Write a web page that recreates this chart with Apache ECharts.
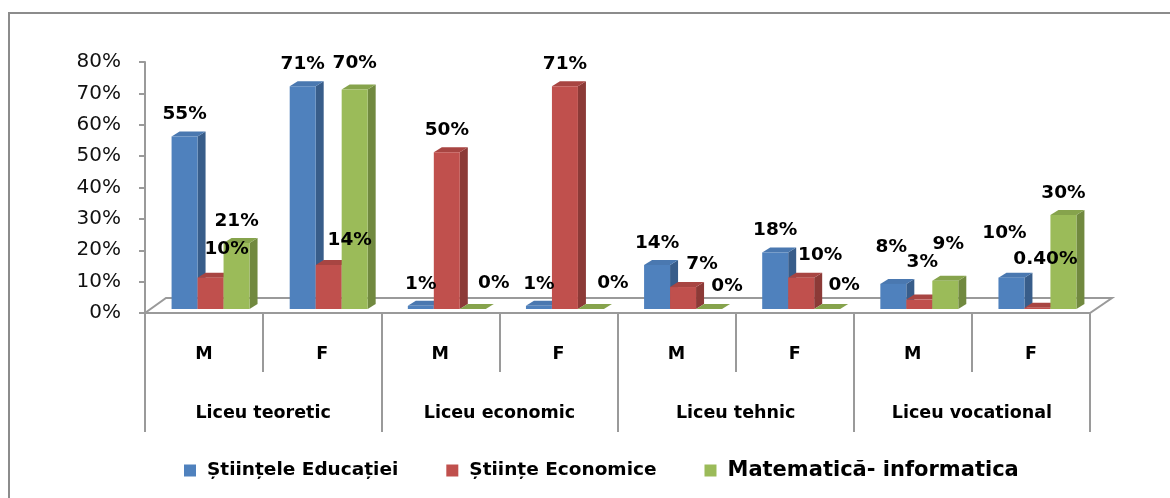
<!DOCTYPE html>
<html>
<head>
<meta charset="utf-8">
<script src="https://cdn.jsdelivr.net/npm/echarts@6/dist/echarts.min.js"></script>
<style>
html,body{margin:0;padding:0;background:#fff;}
#chart{width:1170px;height:498px;}
</style>
</head>
<body>
<div id="chart"></div>
<script>
// ---- data ----
const categories = ['M', 'F', 'M', 'F', 'M', 'F', 'M', 'F'];
const groups = ['Liceu teoretic', 'Liceu economic', 'Liceu tehnic', 'Liceu vocational'];
const seriesNames = ['Științele Educației', 'Științe Economice', 'Matematică- informatica'];
const stiinteleEducatiei = [55, 71, 1, 1, 14, 18, 8, 10];
const stiinteEconomice = [10, 14, 50, 71, 7, 10, 3, 0.4];
const matematicaInformatica = [21, 70, 0, 0, 0, 0, 9, 30];
const yMin = 0, yMax = 80, yInterval = 10;

// ---- layout / style config ----
const palette = [
  {front: '#4F81BD', side: '#385D8A', top: '#4A78B0'},
  {front: '#C0504D', side: '#8C3A37', top: '#A84542'},
  {front: '#9BBB59', side: '#71893F', top: '#86A34C'}
];
// label nudges [dx, dy] per series, per category (layout only)
const labelNudge = [
  [[0,0],[0,0],[0,0],[0,0],[0,0],[0,0],[-2,-15],[-7,-22]],
  [[16,-6],[21,-3],[0,0],[0,0],[19,-1],[19,0],[3,-15],[8,-27]],
  [[0,0],[0,-4],[21,-4],[22,-4],[18,-1],[17,-2],[3,-15],[0,0]]
];
const DX = 8, DY = 5, LIFT = 4;
const gridColor = '#9a9a9a';

function fmt(v) {
  return (Number.isInteger(v) ? String(v) : v.toFixed(2)) + '%';
}

function barRenderer(s) {
  return function (params, api) {
    const idx = api.value(0), v = api.value(1);
    const base = api.coord([idx, 0]);
    const topPt = api.coord([idx, v]);
    const cw = api.size([1, 0])[0];
    const w = cw * 0.22;
    const left = base[0] - 1.5 * w + cw * 0.055 + s * w;
    const yb = base[1] - LIFT;
    const yt = topPt[1] - LIFT;
    const c = palette[s];
    const n = labelNudge[s][idx] || [0, 0];
    return {
      type: 'group',
      children: [
        {type: 'polygon', shape: {points: [[left + w, yt], [left + w + DX, yt - DY], [left + w + DX, yb - DY], [left + w, yb]]},
         style: {fill: c.side}},
        {type: 'polygon', shape: {points: [[left, yt], [left + w, yt], [left + w + DX, yt - DY], [left + DX, yt - DY]]},
         style: {fill: c.top}},
        {type: 'rect', shape: {x: left, y: yt, width: w, height: Math.max(0, yb - yt)},
         style: {fill: c.front}},
        {type: 'text', z2: 100,
         style: {text: fmt(v), x: left + w / 2 + n[0], y: yt - 22 + n[1],
                 align: 'center', verticalAlign: 'middle',
                 font: 'bold 18.5px "DejaVu Sans"', fill: '#000'}}
      ]
    };
  };
}

function floorRenderer(params, api) {
  const cw = api.size([1, 0])[0];
  const a = api.coord([0, 0]);
  const b = api.coord([categories.length - 1, 0]);
  const L = a[0] - cw / 2, R = b[0] + cw / 2, y = a[1];
  return {
    type: 'polygon',
    shape: {points: [[L, y], [R, y], [R + 22, y - 15], [L + 21, y - 15]]},
    style: {fill: '#fff', stroke: gridColor, lineWidth: 2}
  };
}

const seriesData = [stiinteleEducatiei, stiinteEconomice, matematicaInformatica];

const chart = echarts.init(document.getElementById('chart'));
const series = [{
  type: 'custom', name: 'floor', silent: true, z: 1,
  xAxisIndex: 0, yAxisIndex: 0,
  data: [[0, 0]], renderItem: floorRenderer
}];
seriesData.forEach(function (arr, s) {
  series.push({
    type: 'custom', name: seriesNames[s], z: 3,
    xAxisIndex: 0, yAxisIndex: 0,
    itemStyle: {color: palette[s].front},
    data: arr.map(function (v, i) { return [i, v]; }),
    renderItem: barRenderer(s)
  });
});

chart.setOption({
  animation: false,
  backgroundColor: '#fff',
  color: palette.map(function (p) { return p.front; }),
  graphic: [{
    type: 'rect', silent: true, z: -1,
    shape: {x: 9, y: 13, width: 1200, height: 600},
    style: {fill: 'none', stroke: '#8c8c8c', lineWidth: 2}
  }],
  grid: {left: 145, right: 80, top: 62, bottom: 185, containLabel: false},
  xAxis: [{
    type: 'category', data: categories, position: 'bottom',
    axisLine: {show: true, lineStyle: {color: gridColor, width: 2}},
    axisTick: {show: true, length: 59, interval: 0, lineStyle: {color: gridColor, width: 2}},
    axisLabel: {margin: 31, interval: 0, color: '#000', fontFamily: 'DejaVu Sans', fontWeight: 'bold', fontSize: 17.5, lineHeight: 20}
  }, {
    type: 'category', data: groups, position: 'bottom',
    axisLine: {show: false},
    axisTick: {show: true, length: 119, interval: 0, lineStyle: {color: gridColor, width: 2}},
    axisLabel: {margin: 90, interval: 0, color: '#000', fontFamily: 'DejaVu Sans', fontWeight: 'bold', fontSize: 17.5, lineHeight: 20}
  }],
  yAxis: {
    type: 'value', min: yMin, max: yMax, interval: yInterval,
    axisLine: {show: true, lineStyle: {color: gridColor, width: 2}},
    axisTick: {show: true, length: 6, lineStyle: {color: gridColor, width: 2}},
    splitLine: {show: false},
    axisLabel: {margin: 24, color: '#111', fontFamily: 'DejaVu Sans', fontSize: 20,
                formatter: function (v) { return v + '%'; }}
  },
  legend: {
    left: 179, top: 455, orient: 'horizontal', icon: 'rect',
    itemWidth: 12, itemHeight: 12, itemGap: 48,
    textStyle: {color: '#000', fontFamily: 'DejaVu Sans', fontWeight: 'bold', fontSize: 18.5, padding: [0, 0, 0, 6]},
    data: [
      {name: seriesNames[0]},
      {name: seriesNames[1]},
      {name: seriesNames[2], textStyle: {fontSize: 21}}
    ]
  },
  series: series
});
</script>
</body>
</html>
